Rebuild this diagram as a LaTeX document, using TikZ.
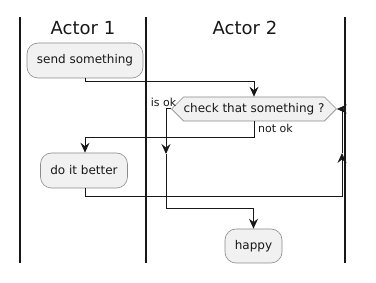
\documentclass[tikz,border=0pt]{standalone}
\usepackage{fontspec}
\setmainfont{DejaVu Sans}
\usetikzlibrary{arrows.meta,shapes.symbols}
\definecolor{boxfill}{HTML}{F1F1F1}
\definecolor{boxline}{HTML}{8A8A8A}
\definecolor{ink}{HTML}{181818}
\begin{document}
\begin{tikzpicture}[x=1pt,y=-1pt,
  act/.style={draw=boxline,fill=boxfill,line width=0.6pt,rounded corners=11pt,
    inner sep=0pt,font=\fontsize{12}{14}\selectfont,text=ink},
  dec/.style={draw=boxline,fill=boxfill,line width=0.6pt,shape=signal,
    signal to=west and east,signal pointer angle=90,inner sep=0pt,
    minimum width=152pt,minimum height=24pt,font=\fontsize{12}{14}\selectfont,text=ink},
  lane/.style={line width=1.4pt,ink},
  flow/.style={line width=1pt,ink},
  tip/.style={-{Stealth[length=10pt,width=9pt,inset=3.5pt]}},
  lbl/.style={font=\fontsize{11}{13}\selectfont,text=ink,inner sep=0pt},
  head/.style={font=\fontsize{18}{21}\selectfont,text=ink,inner sep=0pt}]
\useasboundingbox (0,0) rectangle (376,283);
% lanes
\coordinate (l1t) at (20,17); \coordinate (l1b) at (20,263);
\coordinate (l2t) at (146,17); \coordinate (l2b) at (146,263);
\coordinate (l3t) at (345,17); \coordinate (l3b) at (345,263);
\draw[lane] (l1t) -- (l1b);
\draw[lane] (l2t) -- (l2b);
\draw[lane] (l3t) -- (l3b);
\node[head] (h1) at (83,28) {Actor 1};
\node[head] (h2) at (245,28) {Actor 2};
% nodes
\node[act,minimum width=116pt,minimum height=35pt] (send) at (85,60.5) {send something};
\node[dec] (chk) at (254,109) {check that something ?};
\node[act,minimum width=87pt,minimum height=35pt] (better) at (84,170.5) {do it better};
\node[act,minimum width=57pt,minimum height=34pt] (happy) at (253.5,246) {happy};
% labels
\node[lbl,anchor=east] (isok) at (176.5,102) {is ok};
\node[lbl,anchor=west] (notok) at (258,128) {not ok};
% connectors
\coordinate (s1) at (85,82);
\draw[flow,tip] (send.south -| s1) -- (s1) -| (chk.north);
\coordinate (a1) at (166,109);
\coordinate (a2) at (166,154);
\coordinate (a3) at (166,209);
\draw[flow,tip] (chk.west) -- (a1) -- (a2);
\draw[flow,tip] (a2) -- (a3) -| (happy.north);
\coordinate (b1) at (254,138);
\draw[flow,tip] (chk.south) -- (b1) -| (better.north -| s1);
\coordinate (c1) at (85,197);
\coordinate (c2) at (342,197);
\coordinate (c3) at (342,153);
\coordinate (c4) at (342,109);
\draw[flow,tip] (better.south -| c1) -- (c1) -- (c2) -- (c3);
\draw[flow,tip] (c3) -- (c4) -- (chk.east);
\end{tikzpicture}
\end{document}
